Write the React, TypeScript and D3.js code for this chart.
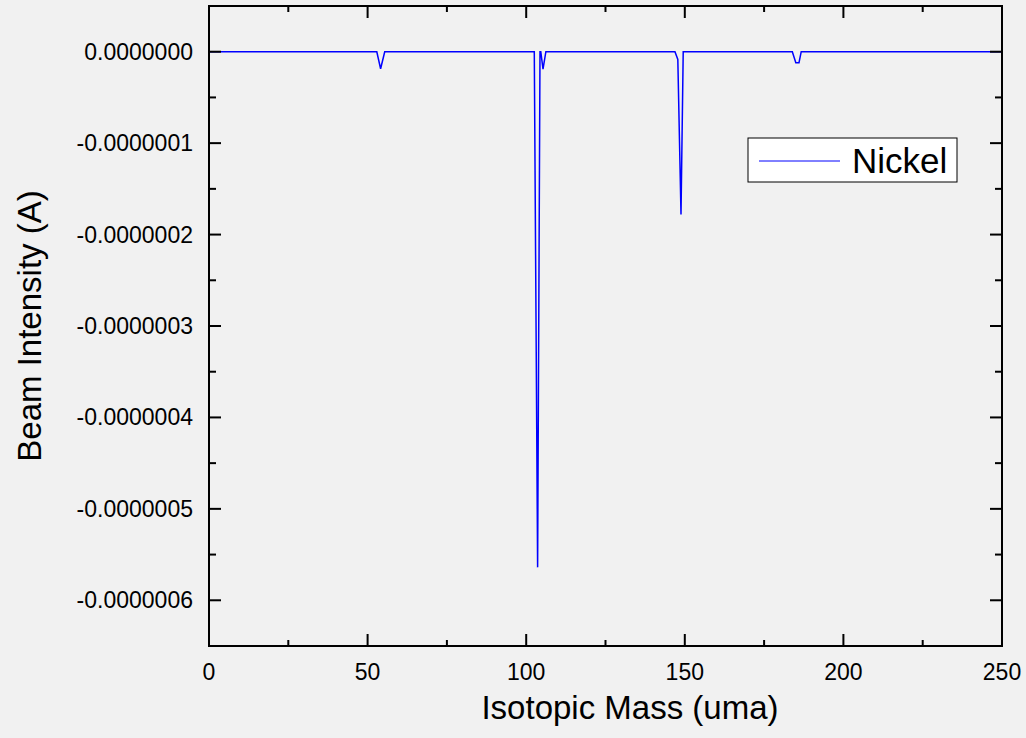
import React from 'react';
import { scaleLinear, line, range } from 'd3';

const width = 1026;
const height = 738;

// plot box
const left = 209;
const right = 1002;
const top = 6;
const bottom = 646;

// Nickel beam scan
const mass = [0, 52.9, 54.1, 55.4, 102.55, 103.6, 104.35, 104.6, 105.3, 106.2, 146.9, 147.8, 148.8, 149.5, 183.9, 185.0, 186.0, 186.7, 250];
const intensity = [0, 0, -1.86e-8, 0, 0, -5.64e-7, 0, 0, -1.9e-8, 0, 0, -0.84e-8, -1.78e-7, 0, 0, -1.2e-8, -1.2e-8, 0, 0];

const xTicks = [0, 50, 100, 150, 200, 250];
const yTicks = [0, -1e-7, -2e-7, -3e-7, -4e-7, -5e-7, -6e-7];
const yLabels = ['0.0000000', '-0.0000001', '-0.0000002', '-0.0000003', '-0.0000004', '-0.0000005', '-0.0000006'];

const font = '"Liberation Sans", Arial, sans-serif';

export default function App() {
  const x = scaleLinear().domain([0, 250]).range([left, right]);
  const y = scaleLinear().domain([-6.5e-7, 0.5e-7]).range([bottom, top]);

  const pts = mass.map((m, i) => [m, intensity[i]] as [number, number]);
  const path = line<[number, number]>()
    .x(d => x(d[0]))
    .y(d => y(d[1]))(pts);

  const xMinor = range(25, 250, 50);
  const yMinor = range(-6.5e-7, 0.5e-7 + 1e-12, 1e-7);

  return (
    <svg width={width} height={height} style={{ position: 'absolute', left: 0, top: 0 }}>
      <rect width={width} height={height} fill="#f1f1f1" />

      <path d={path || ''} fill="none" stroke="#0000ff" strokeWidth={1.5} />

      <g stroke="#000" strokeWidth={2}>
        {xTicks.map(t => (
          <g key={'xt' + t}>
            <line x1={x(t)} x2={x(t)} y1={bottom} y2={bottom - 12} />
            <line x1={x(t)} x2={x(t)} y1={top} y2={top + 12} />
          </g>
        ))}
        {xMinor.map(t => (
          <g key={'xm' + t}>
            <line x1={x(t)} x2={x(t)} y1={bottom} y2={bottom - 6} />
            <line x1={x(t)} x2={x(t)} y1={top} y2={top + 6} />
          </g>
        ))}
        {yTicks.map(t => (
          <g key={'yt' + t}>
            <line x1={left} x2={left + 12} y1={y(t)} y2={y(t)} />
            <line x1={right} x2={right - 12} y1={y(t)} y2={y(t)} />
          </g>
        ))}
        {yMinor.map(t => (
          <g key={'ym' + t}>
            <line x1={left} x2={left + 7} y1={y(t)} y2={y(t)} />
            <line x1={right} x2={right - 7} y1={y(t)} y2={y(t)} />
          </g>
        ))}
        <rect x={left} y={top} width={right - left} height={bottom - top} fill="none" />
      </g>

      <g fontFamily={font} fontSize={23} fill="#000">
        {xTicks.map(t => (
          <text key={'xl' + t} x={x(t)} y={680} textAnchor="middle">{t}</text>
        ))}
        {yTicks.map((t, i) => (
          <text key={'yl' + t} x={193} y={y(t) + 8} textAnchor="end">{yLabels[i]}</text>
        ))}
      </g>

      <text x={630} y={719} textAnchor="middle" fontFamily={font} fontSize={33}>Isotopic Mass (uma)</text>
      <text transform={`translate(41, ${(top + bottom) / 2}) rotate(-90)`} textAnchor="middle" fontFamily={font} fontSize={33}>Beam Intensity (A)</text>

      <g>
        <rect x={748} y={138} width={209} height={44} fill="#fff" stroke="#000" strokeWidth={1} />
        <line x1={759} x2={840} y1={161} y2={161} stroke="#0000ff" strokeWidth={1} />
        <text x={852} y={173} fontFamily={font} fontSize={35}>Nickel</text>
      </g>
    </svg>
  );
}
